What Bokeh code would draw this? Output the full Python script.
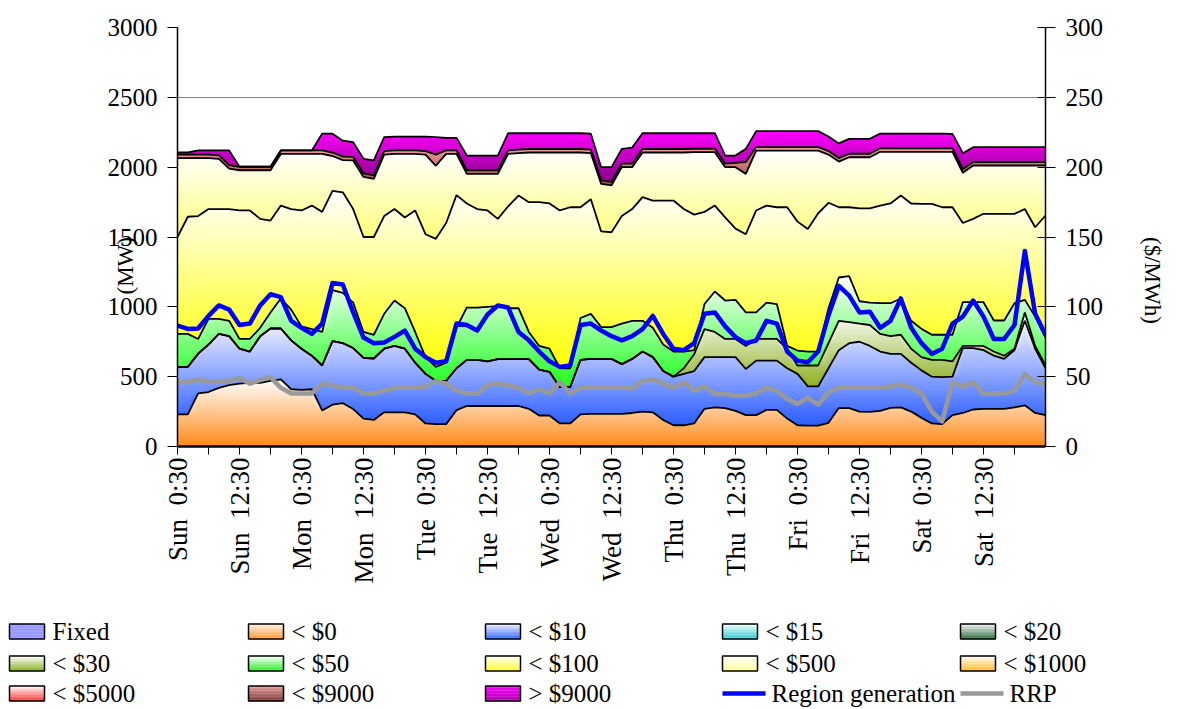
import math
import numpy as np
from bokeh.plotting import figure
from bokeh.models import Range1d, LinearAxis, FixedTicker
from bokeh.layouts import column
from bokeh.embed import file_html
from bokeh.resources import INLINE
from bokeh.core.properties import value

FONT = "Liberation Serif"

# ---------------- data (hours after Sun 0:30, every 2 hours) ----------------
hours = list(range(0, 169, 2))
tick_hours = list(range(0, 157, 12))
tick_days = ["Sun", "Sun", "Mon", "Mon", "Tue", "Tue", "Wed", "Wed", "Thu", "Thu", "Fri", "Fri", "Sat", "Sat"]
tick_times = ["0:30", "12:30"] * 7
tick_labels = [d + " \u00a0" + t for d, t in zip(tick_days, tick_times)]

# cumulative MW at the top of each price band (stacked)
cum_lt0 = [230, 230, 380, 390, 420, 440, 450, 455, 455, 470, 480, 410, 405, 410, 258, 300, 310,
           268, 200, 190, 245, 245, 245, 230, 165, 160, 160, 260, 290, 290, 290, 290, 290, 290,
           270, 222, 222, 165, 165, 230, 234, 234, 234, 234, 240, 250, 245, 190, 152, 152,
           165, 270, 280, 275, 255, 225, 225, 262, 262, 200, 152, 150, 150, 170, 275, 275, 250, 248,
           255, 277, 280, 250, 205, 165, 160, 225, 240, 265, 270, 270, 270, 280, 295, 240, 225]
cum_lt10 = [570, 570, 665, 730, 806, 790, 700, 680, 790, 845, 845, 760, 700, 650, 580, 755, 740,
            705, 635, 630, 700, 720, 700, 600, 520, 470, 470, 560, 620, 620, 610, 625, 625, 625,
            625, 550, 535, 425, 425, 620, 627, 627, 627, 590, 627, 680, 640, 540, 500, 520,
            540, 640, 640, 640, 640, 555, 615, 615, 615, 560, 520, 430, 430, 560, 690, 740, 750, 720,
            680, 663, 663, 600, 545, 500, 496, 500, 705, 705, 690, 650, 627, 690, 900, 700, 560]
cum_lt30 = [570, 570, 665, 730, 806, 790, 700, 680, 790, 845, 845, 760, 700, 650, 580, 755, 740,
            705, 635, 630, 700, 720, 700, 600, 520, 470, 470, 560, 620, 620, 610, 625, 625, 625,
            625, 550, 535, 425, 425, 620, 627, 627, 627, 590, 627, 680, 640, 540, 500, 560,
            660, 840, 820, 770, 770, 720, 770, 770, 770, 700, 580, 580, 580, 740, 900, 890, 880, 870,
            806, 790, 800, 700, 640, 620, 620, 610, 720, 720, 720, 680, 650, 700, 960, 720, 580]
cum_lt50 = [806, 806, 770, 914, 914, 900, 770, 770, 850, 960, 1060, 980, 860, 840, 820, 1120, 1100,
            1030, 820, 800, 950, 1045, 990, 820, 640, 570, 600, 850, 995, 995, 1000, 1005, 990, 990,
            820, 720, 700, 560, 560, 920, 950, 855, 855, 880, 900, 900, 850, 730, 680, 680,
            690, 1020, 1110, 1045, 1050, 960, 960, 1030, 1020, 720, 687, 680, 680, 990, 1210, 1220, 1040, 1030,
            1026, 1026, 1060, 900, 842, 800, 800, 800, 1033, 1033, 1033, 902, 902, 1026, 1050, 930, 780]
cum_lt100 = [1500, 1645, 1650, 1700, 1700, 1700, 1690, 1690, 1630, 1618, 1725, 1700, 1690, 1725, 1680, 1830, 1820,
             1700, 1500, 1500, 1650, 1700, 1640, 1690, 1520, 1487, 1600, 1800, 1740, 1700, 1690, 1630, 1720, 1797,
             1749, 1749, 1740, 1690, 1713, 1713, 1770, 1540, 1534, 1650, 1700, 1785, 1761, 1761, 1761, 1700,
             1660, 1680, 1725, 1640, 1560, 1520, 1690, 1725, 1713, 1713, 1610, 1558, 1670, 1745, 1713, 1713, 1705, 1705,
             1725, 1740, 1797, 1740, 1737, 1737, 1713, 1713, 1600, 1630, 1666, 1666, 1666, 1666, 1700, 1570, 1654]
cum_lt500 = [2065, 2065, 2065, 2065, 2060, 1990, 1978, 1978, 1978, 1978, 2095, 2095, 2095, 2095, 2095, 2080, 2050,
             2048, 1930, 1916, 2090, 2095, 2095, 2095, 2090, 2010, 2095, 2095, 1952, 1952, 1952, 1952, 2095, 2100,
             2105, 2105, 2105, 2105, 2105, 2105, 2100, 1880, 1870, 2000, 2000, 2105, 2105, 2105, 2105, 2105,
             2107, 2107, 2107, 2000, 2000, 1952, 2119, 2119, 2119, 2119, 2119, 2119, 2119, 2090, 2040, 2071, 2071, 2071,
             2110, 2110, 2110, 2110, 2110, 2110, 2110, 2110, 1960, 2012, 2012, 2012, 2012, 2012, 2012, 2012, 2012]
cum_lt9000 = [2090, 2090, 2090, 2090, 2085, 2015, 2003, 2003, 2003, 2003, 2120, 2120, 2120, 2120, 2120, 2105, 2075,
              2073, 1955, 1941, 2115, 2120, 2120, 2120, 2115, 2090, 2120, 2120, 1977, 1977, 1977, 1977, 2120, 2125,
              2130, 2130, 2130, 2130, 2130, 2130, 2125, 1905, 1895, 2025, 2025, 2130, 2130, 2130, 2130, 2130,
              2132, 2132, 2132, 2025, 2030, 2037, 2144, 2144, 2144, 2144, 2144, 2144, 2144, 2115, 2065, 2096, 2096, 2096,
              2135, 2135, 2135, 2135, 2135, 2135, 2135, 2135, 1985, 2037, 2037, 2037, 2037, 2037, 2037, 2037, 2037]
cum_gt9000 = [2105, 2105, 2120, 2120, 2120, 2120, 2003, 2003, 2003, 2003, 2120, 2120, 2120, 2120, 2240, 2240, 2190,
              2179, 2060, 2048, 2215, 2219, 2219, 2219, 2219, 2215, 2210, 2210, 2083, 2083, 2083, 2083, 2243, 2243,
              2243, 2243, 2243, 2243, 2243, 2243, 2240, 2000, 2000, 2131, 2140, 2243, 2243, 2243, 2243, 2243,
              2243, 2243, 2243, 2083, 2083, 2131, 2258, 2258, 2258, 2258, 2258, 2258, 2258, 2220, 2170, 2203, 2203, 2203,
              2240, 2240, 2240, 2240, 2240, 2240, 2240, 2238, 2100, 2143, 2143, 2143, 2143, 2143, 2143, 2143, 2143]

region_generation = [866, 842, 845, 935, 1010, 980, 870, 880, 1010, 1090, 1070, 900, 850, 806, 880, 1170, 1160,
                     960, 780, 740, 745, 785, 830, 700, 640, 600, 610, 880, 870, 830, 945, 1010, 995, 820,
                     760, 680, 610, 570, 580, 870, 880, 830, 790, 760, 790, 840, 935, 806, 700, 690,
                     740, 950, 960, 860, 783, 740, 759, 900, 880, 680, 615, 603, 680, 940, 1150, 1080, 960, 965,
                     850, 900, 1060, 850, 740, 663, 700, 880, 930, 1045, 930, 770, 770, 870, 1400, 950, 800]
rrp = [46, 46, 48, 46, 46.5, 47, 49, 45, 47.5, 49.5, 42, 38, 38, 38, 45, 44, 42,
       42, 38, 38, 40, 42, 42, 42, 43, 47, 45, 40, 38, 38, 44, 45, 44, 42,
       38, 41, 38, 46, 38, 42, 42, 42, 42, 42, 41.5, 47, 48, 45, 42, 46,
       40, 43, 37.6, 37.6, 36.5, 36.5, 38, 42, 40, 34, 30.5, 35, 30, 39, 42, 42, 42, 42,
       42, 43, 44.5, 42, 38, 25, 18, 46, 43, 46, 38, 38, 38, 40, 52, 46, 45]

legend_names = ["Fixed", "< $0", "< $10", "< $15", "< $20",
                "< $30", "< $50", "< $100", "< $500", "< $1000",
                "< $5000", "< $9000", "> $9000", "Region generation", "RRP"]

# ---------------- helpers ----------------
def _rgb(h):
    return tuple(int(h[i:i + 2], 16) for i in (1, 3, 5))

def mix(c0, c1, f):
    a, b = _rgb(c0), _rgb(c1)
    return "#%02x%02x%02x" % tuple(int(round(a[i] + (b[i] - a[i]) * f)) for i in range(3))

# ---------------- main chart ----------------
p = figure(width=1180, height=590, x_range=Range1d(0, 168), y_range=Range1d(0, 3000),
           output_backend="svg", toolbar_location=None,
           min_border_left=177, min_border_right=135, min_border_top=27, min_border_bottom=144)
p.extra_y_ranges = {"rrp": Range1d(0, 300)}
p.background_fill_color = "white"
p.border_fill_color = "white"
p.outline_line_color = None

right_axis = LinearAxis(y_range_name="rrp", ticker=FixedTicker(ticks=list(range(0, 301, 50))))
p.add_layout(right_axis, "right")

left_ticker = FixedTicker(ticks=list(range(0, 3001, 500)))
left_axis = p.yaxis[0]
left_axis.ticker = left_ticker
for ax in (left_axis, right_axis):
    ax.major_label_text_font = FONT
    ax.major_label_text_font_size = "25px"
    ax.major_label_text_color = "black"
    ax.minor_tick_line_color = None
    ax.major_tick_line_color = "black"
    ax.axis_line_color = "black"
    ax.axis_line_width = 1.5
    ax.major_tick_out = 10
    ax.major_label_standoff = 10
    ax.axis_label_text_font = FONT
    ax.axis_label_text_font_size = "23px"
    ax.axis_label_text_font_style = "normal"
    ax.axis_label_text_color = "black"
left_axis.major_tick_in = 0
right_axis.major_tick_in = 8

left_axis.axis_label = "(MW)" + "\u00a0" * 10
left_axis.axis_label_standoff = -33
try:
    right_axis.axis_label_orientation = -math.pi / 2
    right_axis.axis_label = "($/MWh)" + "\u00a0" * 15
except Exception:
    right_axis.axis_label = "\u00a0" * 15 + "($/MWh)"
right_axis.axis_label_standoff = 46

p.xaxis.ticker = FixedTicker(ticks=tick_hours, minor_ticks=[h + 6 for h in tick_hours])
p.xaxis.major_label_overrides = {h: lab for h, lab in zip(tick_hours, tick_labels)}
p.xaxis.major_label_orientation = math.pi / 2
p.xaxis.major_label_text_font = FONT
p.xaxis.major_label_text_font_size = "27px"
p.xaxis.major_label_text_color = "black"
p.xaxis.major_label_standoff = 3
p.xaxis.major_tick_out = 8
p.xaxis.major_tick_in = 0
p.xaxis.minor_tick_out = 8
p.xaxis.minor_tick_in = 0
p.xaxis.minor_tick_line_color = "black"
p.xaxis.major_tick_line_color = "black"
p.xaxis.axis_line_color = "black"
p.xaxis.axis_line_width = 2.5

p.xgrid.visible = False
p.ygrid.ticker = left_ticker
p.ygrid.grid_line_color = "#808080"
p.ygrid.grid_line_width = 1

x = np.array(hours, dtype=float)
bounds = [np.zeros_like(x)] + [np.array(a, dtype=float) for a in
          (cum_lt0, cum_lt10, cum_lt30, cum_lt50, cum_lt100, cum_lt500, cum_lt9000, cum_gt9000)]
for i in range(1, len(bounds)):
    bounds[i] = np.maximum(bounds[i], bounds[i - 1])

layer_colors = [  # (bottom colour, top colour, number of gradient bands)
    ("#FF8A18", "#FFFFFF", 40),   # < $0
    ("#2A5CFF", "#F4F4FF", 40),   # < $10
    ("#8CB020", "#FFFFFF", 30),   # < $30
    ("#1EFF1E", "#FFFFFF", 40),   # < $50
    ("#FFFF00", "#FFFFFF", 40),   # < $100
    ("#FFFF7A", "#FFFFFF", 30),   # < $500
    ("#A04848", "#F4A0A0", 12),   # < $9000
    ("#880088", "#FF00FF", 30),   # > $9000
]

for li, (cb, ct, n) in enumerate(layer_colors):
    lo, hi = bounds[li], bounds[li + 1]
    if np.all(hi - lo <= 0):
        continue
    ymin, ymax = lo.min(), hi.max()
    edges = np.linspace(ymin, ymax, n + 1)[1:]
    for k in range(n - 1, -1, -1):
        y2 = np.maximum(lo, np.minimum(hi, edges[k]))
        if np.all(y2 - lo <= 1e-9):
            continue
        p.varea(x=x, y1=lo, y2=y2, fill_color=mix(cb, ct, (k + 0.5) / n), fill_alpha=1.0)

for hi in bounds[1:]:
    p.line(x, hi, line_color="black", line_width=1.8)

p.line(x, np.array(region_generation, float), line_color="#0000FF", line_width=4.5, line_join="round")
p.line(x, np.array(rrp, float), y_range_name="rrp", line_color="#999999", line_width=4.5, line_join="round")

# ---------------- legend ----------------
lg = figure(width=1180, height=118, x_range=Range1d(0, 1180), y_range=Range1d(118, 0),
            output_backend="svg", toolbar_location=None, min_border=0,
            x_axis_type=None, y_axis_type=None)
lg.outline_line_color = None
lg.background_fill_color = "white"
lg.border_fill_color = "white"
for fig in (p, lg):
    try:
        fig.frame_align = False
    except Exception:
        pass

swatches = [
    ("#9999FF", "#9999FF"), ("#FF9933", "#FFF2E6"), ("#3366FF", "#F2F2FF"), ("#33CCCC", "#F0FFFF"),
    ("#2E6E40", "#F4F4F4"), ("#88B020", "#FFFFFF"), ("#22EE22", "#FFFFFF"), ("#FFFF22", "#FFFFFF"),
    ("#FFFF99", "#FFFFFF"), ("#FFBB22", "#FFFFFF"), ("#FF3333", "#FFFFFF"), ("#7A3A3A", "#E8A0A0"),
    ("#AA00AA", "#FF00FF"), None, None,
]
col_x = [9, 248, 485, 722, 960]
row_y = [41, 73, 103]
sw_w, sw_h = 35, 15
ql, qr, qt, qb, qc = [], [], [], [], []
ol, orr, ot, ob = [], [], [], []
tx, ty, tt = [], [], []
for i, name in enumerate(legend_names):
    cx, ry = col_x[i % 5], row_y[i // 5]
    sw = swatches[i]
    ty.append(ry)
    tt.append(name)
    if sw is None:
        lg.line([cx, cx + sw_w + 8], [ry, ry],
                line_color="#0000FF" if name == "Region generation" else "#999999",
                line_width=4.5)
        tx.append(cx + sw_w + 14)
        continue
    tx.append(cx + sw_w + 8)
    cb, ct = sw
    nstrip = 10
    for s in range(nstrip):
        y_top = ry - sw_h / 2 + s * sw_h / nstrip
        ql.append(cx); qr.append(cx + sw_w)
        qt.append(y_top); qb.append(y_top + sw_h / nstrip + 0.3)
        qc.append(mix(ct, cb, (s + 0.5) / nstrip))
    ol.append(cx); orr.append(cx + sw_w); ot.append(ry - sw_h / 2); ob.append(ry + sw_h / 2)
lg.quad(left=ql, right=qr, top=qt, bottom=qb, fill_color=qc, line_color=None)
lg.quad(left=ol, right=orr, top=ot, bottom=ob, fill_color=None, line_color="black", line_width=1.5)
lg.text(x=tx, y=ty, text=tt, text_font=value(FONT), text_font_size="25px",
        text_baseline="middle", text_align="left", text_color="black")

layout = column(p, lg)
open("out.html", "w").write(file_html(layout, INLINE))
